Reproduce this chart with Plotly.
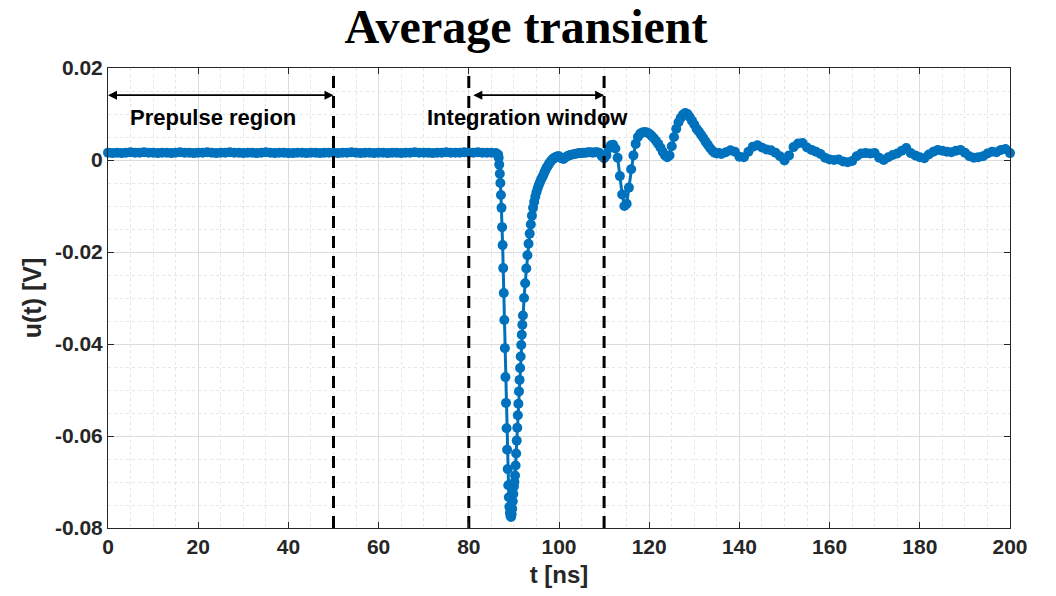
import plotly.graph_objects as go

# ---------------- data ----------------
t_base = [0, 1, 2, 3, 4, 5, 6, 7, 8, 9, 10, 11, 12, 13, 14, 15, 16, 17, 18, 19,
          20, 21, 22, 23, 24, 25, 26, 27, 28, 29, 30, 31, 32, 33, 34, 35, 36, 37, 38, 39,
          40, 41, 42, 43, 44, 45, 46, 47, 48, 49, 50, 51, 52, 53, 54, 55, 56, 57, 58, 59,
          60, 61, 62, 63, 64, 65, 66, 67, 68, 69, 70, 71, 72, 73, 74, 75, 76, 77, 78, 79,
          80, 81, 82, 83, 84, 85, 86]
u_base = [0.0016, 0.0015, 0.0016, 0.0015, 0.0016, 0.0017, 0.0016, 0.0016, 0.0017, 0.0016,
          0.0016, 0.0015, 0.0016, 0.0016, 0.0015, 0.0016, 0.0017, 0.0016, 0.0016, 0.0015,
          0.0016, 0.0016, 0.0017, 0.0016, 0.0015, 0.0016, 0.0016, 0.0017, 0.0016, 0.0016,
          0.0015, 0.0016, 0.0016, 0.0015, 0.0016, 0.0017, 0.0016, 0.0015, 0.0016, 0.0016,
          0.0015, 0.0015, 0.0016, 0.0016, 0.0015, 0.0016, 0.0016, 0.0015, 0.0016, 0.0016,
          0.0016, 0.0015, 0.0016, 0.0016, 0.0017, 0.0016, 0.0015, 0.0016, 0.0016, 0.0015,
          0.0016, 0.0016, 0.0015, 0.0016, 0.0016, 0.0015, 0.0016, 0.0016, 0.0017, 0.0016,
          0.0016, 0.0016, 0.0015, 0.0016, 0.0016, 0.0017, 0.0016, 0.0016, 0.0016, 0.0017,
          0.0016, 0.0016, 0.0017, 0.0016, 0.0016, 0.0016, 0.0015]

t_fall = [86.5, 86.625, 86.75, 86.875, 87.0, 87.125, 87.25, 87.375, 87.5, 87.625, 87.75,
          87.875, 88.0, 88.125, 88.25, 88.375, 88.5, 88.625, 88.75, 88.875, 89.0, 89.125, 89.25]
u_fall = [0.0012, 0.0005, -0.0010, -0.0030, -0.0050, -0.0076, -0.0104, -0.0146, -0.0185,
          -0.0235, -0.0289, -0.0348, -0.0409, -0.0472, -0.0528, -0.0583, -0.0630, -0.0672,
          -0.0707, -0.0733, -0.0754, -0.0767, -0.0774]

t_rise = [89.375, 89.5, 89.625, 89.75, 89.875, 90.0, 90.125, 90.25, 90.375, 90.5, 90.625,
          90.75, 90.875, 91.0, 91.125, 91.25, 91.375, 91.5, 91.625, 91.75, 91.875, 92.0,
          92.25, 92.5, 92.75, 93.0, 93.25, 93.5, 93.75, 94.0, 94.25, 94.5, 94.75, 95.0,
          95.25, 95.5, 95.75, 96.0, 96.25, 96.5, 96.75, 97.0, 97.25, 97.5, 97.75, 98.0,
          98.25, 98.5, 98.75, 99.0, 99.25, 99.5, 99.75]
u_rise = [-0.0776, -0.0770, -0.0758, -0.0742, -0.0726, -0.0710, -0.0700, -0.0686, -0.0664,
          -0.0638, -0.0610, -0.0582, -0.0555, -0.0530, -0.0503, -0.0478, -0.0452, -0.0427,
          -0.0402, -0.0380, -0.0358, -0.0338,
          -0.0300, -0.0268, -0.0236, -0.0207, -0.0182, -0.0160, -0.0140, -0.0121, -0.0104,
          -0.0091, -0.0080, -0.0070, -0.0062, -0.0055, -0.0049, -0.0043, -0.0038, -0.0033,
          -0.0027, -0.0022, -0.0017, -0.0013, -0.0009, -0.0005, -0.0002, 0.0001, 0.0003,
          0.0005, 0.0006, 0.0007, 0.0008]

t_ring = [100.0, 100.5, 101.0, 101.5, 102.0, 102.5, 103.0, 103.5, 104.0, 104.5, 105.0,
          105.5, 106.0, 106.5, 107.0, 107.5, 108.0, 108.5, 109.0, 109.5, 110.0, 110.5,
          111.0, 111.5, 112.0, 112.5, 113.0, 113.5, 114.0, 114.5, 115.0, 115.5, 116.0,
          116.5, 117.0, 117.5, 118.0, 118.5, 119.0, 119.5, 120.0, 120.5, 121.0, 121.5,
          122.0, 122.5, 123.0, 123.5, 124.0, 124.5, 125.0, 125.5, 126.0, 126.5, 127.0,
          127.5, 128.0, 128.5, 129.0, 129.5, 130.0, 130.5, 131.0, 131.5, 132.0, 132.5,
          133.0, 133.5, 134.0, 134.5, 135.0, 135.5]
u_ring = [0.0008, 0.0004, 0.0002, 0.0006, 0.0009, 0.0011, 0.0012, 0.0013, 0.0014, 0.0015,
          0.0015, 0.0016, 0.0016, 0.0017, 0.0017, 0.0016, 0.0017, 0.0017, 0.0015, 0.0008,
          0.0004, 0.0010, 0.0025, 0.0032, 0.0033, 0.0025, 0.0005, -0.0035, -0.0075, -0.0100,
          -0.0095, -0.0060, -0.0020, 0.0010, 0.0035, 0.0050, 0.0057, 0.0060, 0.0061, 0.0060,
          0.0057, 0.0053, 0.0048, 0.0042, 0.0035, 0.0027, 0.0018, 0.0010, 0.0006, 0.0010,
          0.0030, 0.0050, 0.0068, 0.0082, 0.0092, 0.0099, 0.0102, 0.0100, 0.0093, 0.0085,
          0.0077, 0.0068, 0.0062, 0.0055, 0.0048, 0.0040, 0.0033, 0.0026, 0.0020, 0.0016,
          0.0014, 0.0015]

t_tail = [136, 137, 138, 139, 140, 141, 142, 143, 144, 145, 146, 147, 148, 149, 150, 151,
          152, 153, 154, 155, 156, 157, 158, 159, 160, 161, 162, 163, 164, 165, 166, 167,
          168, 169, 170, 171, 172, 173, 174, 175, 176, 177, 178, 179, 180, 181, 182, 183,
          184, 185, 186, 187, 188, 189, 190, 191, 192, 193, 194, 195, 196, 197, 198, 199, 200]
u_tail = [0.0013, 0.0017, 0.0021, 0.0018, 0.0007, 0.0006, 0.0018, 0.0029, 0.0032, 0.0027,
          0.0023, 0.0021, 0.0016, 0.0008, -0.0001, 0.0010, 0.0028, 0.0036, 0.0037, 0.0027,
          0.0022, 0.0018, 0.0013, 0.0005, 0.0001, 0.0000, 0.0001, -0.0003, -0.0005, -0.0002,
          0.0008, 0.0014, 0.0015, 0.0014, 0.0015, 0.0005, 0.0000, 0.0006, 0.0011, 0.0014,
          0.0020, 0.0026, 0.0015, 0.0010, 0.0006, 0.0004, 0.0012, 0.0018, 0.0022, 0.0020,
          0.0018, 0.0017, 0.0020, 0.0022, 0.0016, 0.0008, 0.0005, 0.0006, 0.0008, 0.0014,
          0.0018, 0.0017, 0.0022, 0.0024, 0.0015]

t_all = t_base + t_fall + t_rise + t_ring + t_tail
u_all = u_base + u_fall + u_rise + u_ring + u_tail

marker_lines = [50, 80, 110]          # dashed vertical boundaries [ns]
prepulse_span = [0, 50]               # arrow extent [ns]
window_span = [81, 110]               # arrow extent [ns]
arrow_level = 0.0141                  # V
label_level = 0.0093                  # V
y_range = [-0.08, 0.02]
x_range = [0, 200]
x_ticks = [0, 20, 40, 60, 80, 100, 120, 140, 160, 180, 200]
y_ticks = [-0.08, -0.06, -0.04, -0.02, 0, 0.02]
y_ticklabels = ["-0.08", "-0.06", "-0.04", "-0.02", "0", "0.02"]

BLUE = "#0072BD"
FONT = "Liberation Sans, Arial, sans-serif"

fig = go.Figure()

fig.add_trace(go.Scatter(
    x=t_all, y=u_all, mode="lines+markers",
    line=dict(color=BLUE, width=3),
    marker=dict(color=BLUE, size=10, line=dict(width=0)),
    cliponaxis=False, showlegend=False, hoverinfo="skip"))

for xv in marker_lines:
    fig.add_trace(go.Scatter(
        x=[xv, xv], y=y_range, mode="lines",
        line=dict(color="black", width=3, dash="12px,8px"),
        showlegend=False, hoverinfo="skip"))

# double-headed arrows
for span in (prepulse_span, window_span):
    for a, b in ((span[0], span[1]), (span[1], span[0])):
        fig.add_annotation(x=b, y=arrow_level, ax=a, ay=arrow_level,
                           xref="x", yref="y", axref="x", ayref="y",
                           showarrow=True, arrowhead=2, arrowsize=1.2,
                           arrowwidth=1.5, arrowcolor="black", text="",
                           standoff=0, startstandoff=0)

fig.add_annotation(x=23.3, y=label_level, xref="x", yref="y", text="<b>Prepulse region</b>",
                   showarrow=False, font=dict(family=FONT, size=22, color="black"))
fig.add_annotation(x=93, y=label_level, xref="x", yref="y", text="<b>Integration window</b>",
                   showarrow=False, font=dict(family=FONT, size=22, color="black"))

axis_common = dict(
    showline=True, linecolor="#262626", linewidth=1, mirror="ticks",
    ticks="inside", ticklen=6, tickcolor="#262626",
    showgrid=True, gridcolor="#dcdcdc", gridwidth=1,
    zeroline=False,
    tickfont=dict(family=FONT, size=21, color="#262626", weight="bold"),
)

fig.update_xaxes(range=x_range, tickvals=x_ticks, **axis_common,
                 minor=dict(dtick=5, showgrid=True, gridcolor="#e6e6e6", griddash="dot", ticks=""),
                 title=dict(text="<b>t [ns]</b>", font=dict(family=FONT, size=24, color="#262626"),
                            standoff=8))
fig.update_yaxes(range=y_range, tickvals=y_ticks, ticktext=y_ticklabels, **axis_common,
                 minor=dict(dtick=0.005, showgrid=True, gridcolor="#e6e6e6", griddash="dot", ticks=""),
                 title=dict(text="<b>u(t) [V]</b>", font=dict(family=FONT, size=25, color="#262626"),
                            standoff=6))

fig.update_layout(
    width=1056, height=596,
    margin=dict(l=108, r=46, t=68, b=68),
    paper_bgcolor="white", plot_bgcolor="white",
    title=dict(text="<b>Average transient</b>", x=526 / 1056, xref="container", xanchor="center",
               y=1 - 26 / 596, yref="container", yanchor="middle",
               font=dict(family="Liberation Serif, Times New Roman, serif", size=48, color="black")),
    showlegend=False,
)

fig.write_html("out.html")
